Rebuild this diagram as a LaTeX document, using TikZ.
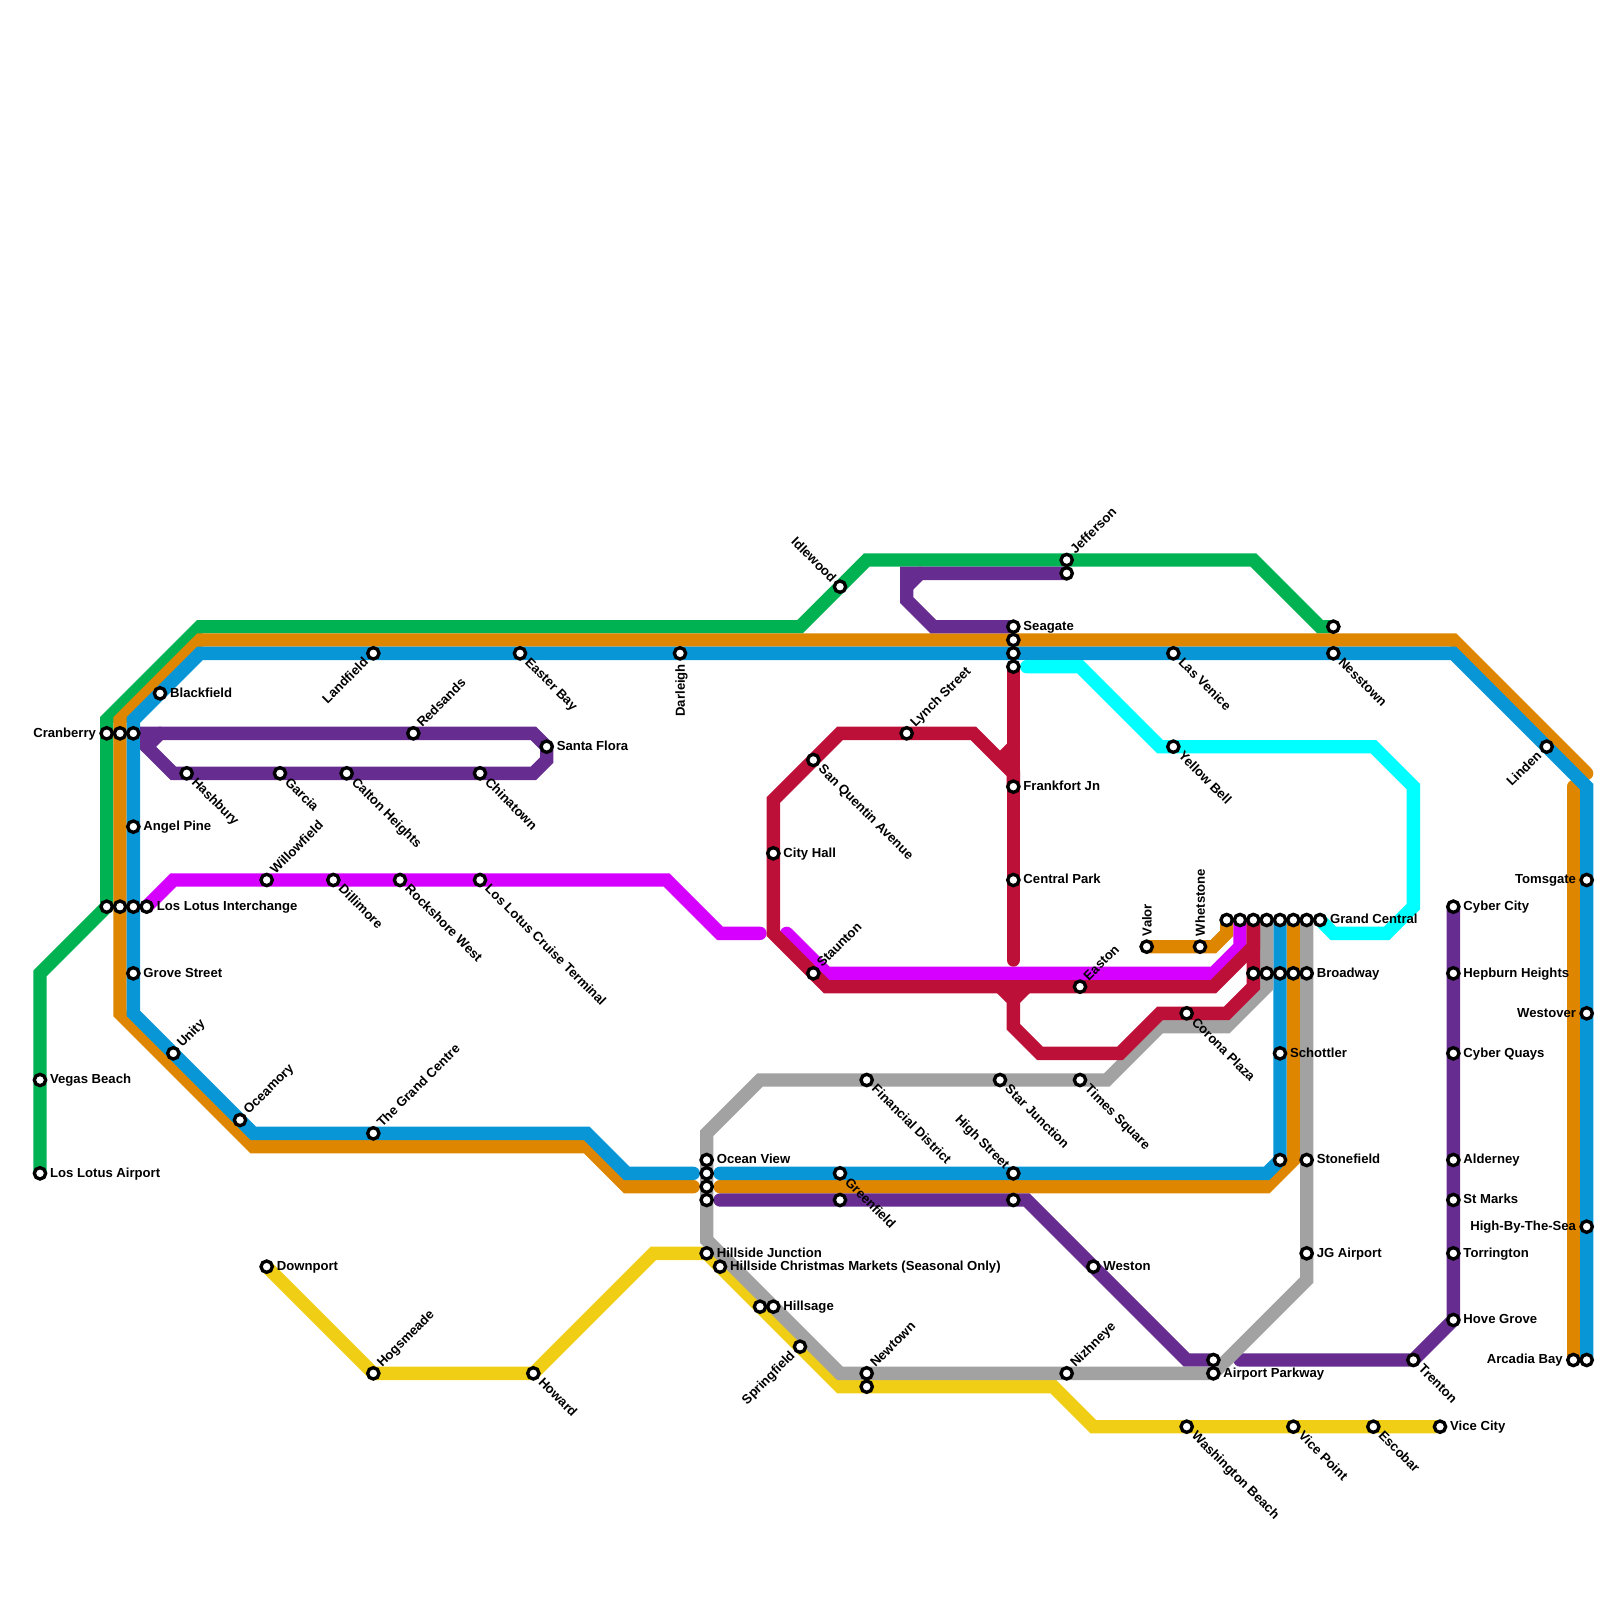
\documentclass[tikz,border=0pt]{standalone}
\usepackage{fontspec}
\setmainfont{Liberation Sans}
\usetikzlibrary{backgrounds}
\definecolor{cgreen}{HTML}{00B251}
\definecolor{corange}{HTML}{DF8600}
\definecolor{cblue}{HTML}{0896D7}
\definecolor{cpurple}{HTML}{662C90}
\definecolor{cmagenta}{HTML}{D500FF}
\definecolor{cred}{HTML}{BD1038}
\definecolor{cgrey}{HTML}{A2A2A2}
\definecolor{cyellow}{HTML}{F0CE15}
\definecolor{ccyan}{HTML}{00FFFF}
\tikzset{
  x=0.25cm,y=-0.25cm,
  metro/.style={line width=0.25cm,line cap=round,line join=miter,miter limit=10},
  stop/.style={circle,draw=black,fill=white,line width=0.0625cm,minimum size=0.2125cm,inner sep=0pt,outer sep=0pt},
  lbl/.style={font=\fontsize{7}{8}\selectfont\bfseries,inner sep=0pt,outer sep=0pt,text=black},
  lR/.style={lbl,anchor=mid west,xshift=0.19cm,yshift=0.02cm},
  lL/.style={lbl,anchor=mid east,xshift=-0.2cm,yshift=0.02cm},
  lUR/.style={lbl,anchor=mid west,rotate=45,xshift=0.19cm,yshift=0.045cm},
  lDR/.style={lbl,anchor=mid west,rotate=-45,xshift=0.19cm,yshift=0.02cm},
  lUL/.style={lbl,anchor=mid east,rotate=-45,xshift=-0.17cm,yshift=0.02cm},
  lDL/.style={lbl,anchor=mid east,rotate=45,xshift=-0.19cm,yshift=0.02cm},
  lU/.style={lbl,anchor=mid west,rotate=90,xshift=0.2cm},
  lD/.style={lbl,anchor=mid east,rotate=90,xshift=-0.2cm},
}
\newcommand{\stn}[5]{\node[stop] (#1) at (#2,#3) {}; \node[#4] (#1-l) at (#1.center) {#5};}
\newcommand{\stp}[3]{\node[stop] (#1) at (#2,#3) {};}
\begin{document}
\begin{tikzpicture}
\useasboundingbox (0,0) rectangle (120,120);
% stations
\stn{lla}{3}{88}{lR}{Los Lotus Airport}
\stn{vegas}{3}{81}{lR}{Vegas Beach}
\stn{cranA}{8}{55}{lL}{Cranberry}
\stp{cranB}{9}{55}
\stp{cranC}{10}{55}
\stp{lliA}{8}{68}
\stp{lliB}{9}{68}
\stp{lliC}{10}{68}
\stn{lliD}{11}{68}{lR}{Los Lotus Interchange}
\stn{blackf}{12}{52}{lR}{Blackfield}
\stn{angel}{10}{62}{lR}{Angel Pine}
\stn{grove}{10}{73}{lR}{Grove Street}
\stn{unity}{13}{79}{lUR}{Unity}
\stn{ocea}{18}{84}{lUR}{Oceamory}
\stn{grand}{28}{85}{lUR}{The Grand Centre}
\stn{hogs}{28}{103}{lUR}{Hogsmeade}
\stn{downp}{20}{95}{lR}{Downport}
\stn{howard}{40}{103}{lDR}{Howard}
\stn{landf}{28}{49}{lDL}{Landfield}
\stn{easter}{39}{49}{lDR}{Easter Bay}
\stn{darl}{51}{49}{lD}{Darleigh}
\stn{reds}{31}{55}{lUR}{Redsands}
\stn{santa}{41}{56}{lR}{Santa Flora}
\stn{hash}{14}{58}{lDR}{Hashbury}
\stn{garcia}{21}{58}{lDR}{Garcia}
\stn{calton}{26}{58}{lDR}{Calton Heights}
\stn{china}{36}{58}{lDR}{Chinatown}
\stn{willow}{20}{66}{lUR}{Willowfield}
\stn{dilli}{25}{66}{lDR}{Dillimore}
\stn{rock}{30}{66}{lDR}{Rockshore West}
\stn{cruise}{36}{66}{lDR}{Los Lotus Cruise Terminal}
\stn{idle}{63}{44}{lUL}{Idlewood}
\stn{jeffA}{80}{42}{lUR}{Jefferson}
\stp{jeffB}{80}{43}
\stn{seaA}{76}{47}{lR}{Seagate}
\stp{seaB}{76}{48}
\stp{seaC}{76}{49}
\stp{seaD}{76}{50}
\stn{lynch}{68}{55}{lUR}{Lynch Street}
\stn{sanq}{61}{57}{lDR}{San Quentin Avenue}
\stn{city}{58}{64}{lR}{City Hall}
\stn{staun}{61}{73}{lUR}{Staunton}
\stn{frank}{76}{59}{lR}{Frankfort Jn}
\stn{central}{76}{66}{lR}{Central Park}
\stn{easton}{81}{74}{lUR}{Easton}
\stn{lasv}{88}{49}{lDR}{Las Venice}
\stn{yell}{88}{56}{lDR}{Yellow Bell}
\stn{valor}{86}{71}{lU}{Valor}
\stn{whet}{90}{71}{lU}{Whetstone}
\stp{gcA}{92}{69}
\stp{gcB}{93}{69}
\stp{gcC}{94}{69}
\stp{gcD}{95}{69}
\stp{gcE}{96}{69}
\stp{gcF}{97}{69}
\stp{gcG}{98}{69}
\stn{gcH}{99}{69}{lR}{Grand Central}
\stp{brA}{94}{73}
\stp{brB}{95}{73}
\stp{brC}{96}{73}
\stp{brD}{97}{73}
\stn{brE}{98}{73}{lR}{Broadway}
\stn{corona}{89}{76}{lDR}{Corona Plaza}
\stn{schott}{96}{79}{lR}{Schottler}
\stn{stone}{98}{87}{lR}{Stonefield}
\stp{stoneB}{96}{87}
\stn{jg}{98}{94}{lR}{JG Airport}
\stn{times}{81}{81}{lDR}{Times Square}
\stn{star}{75}{81}{lDR}{Star Junction}
\stn{fin}{65}{81}{lDR}{Financial District}
\stn{oceanA}{53}{87}{lR}{Ocean View}
\stp{oceanB}{53}{88}
\stp{oceanC}{53}{89}
\stp{oceanD}{53}{90}
\stn{greenA}{63}{88}{lDR}{Greenfield}
\stp{greenB}{63}{90}
\stn{highA}{76}{88}{lUL}{High Street}
\stp{highB}{76}{90}
\stn{hillj}{53}{94}{lR}{Hillside Junction}
\stn{hillc}{54}{95}{lR}{Hillside Christmas Markets (Seasonal Only)}
\stn{hillsA}{58}{98}{lR}{Hillsage}
\stp{hillsB}{57}{98}
\stn{spring}{60}{101}{lDL}{Springfield}
\stn{newtA}{65}{103}{lUR}{Newtown}
\stp{newtB}{65}{104}
\stn{nizh}{80}{103}{lUR}{Nizhneye}
\stn{weston}{82}{95}{lR}{Weston}
\stn{airA}{91}{103}{lR}{Airport Parkway}
\stp{airB}{91}{102}
\stn{trent}{106}{102}{lDR}{Trenton}
\stn{wash}{89}{107}{lDR}{Washington Beach}
\stn{vicep}{97}{107}{lDR}{Vice Point}
\stn{escob}{103}{107}{lDR}{Escobar}
\stn{vicec}{108}{107}{lR}{Vice City}
\stn{nessA}{100}{49}{lDR}{Nesstown}
\stp{nessB}{100}{47}
\stn{linden}{116}{56}{lDL}{Linden}
\stn{toms}{119}{66}{lL}{Tomsgate}
\stn{westo}{119}{76}{lL}{Westover}
\stn{hbts}{119}{92}{lL}{High-By-The-Sea}
\stn{arcA}{118}{102}{lL}{Arcadia Bay}
\stp{arcB}{119}{102}
\stn{cybc}{109}{68}{lR}{Cyber City}
\stn{hepb}{109}{73}{lR}{Hepburn Heights}
\stn{cybq}{109}{79}{lR}{Cyber Quays}
\stn{alder}{109}{87}{lR}{Alderney}
\stn{stm}{109}{90}{lR}{St Marks}
\stn{torr}{109}{94}{lR}{Torrington}
\stn{hove}{109}{99}{lR}{Hove Grove}
% free ends
\coordinate (orE) at (119,58);
\coordinate (orS) at (118,59);
\coordinate (blL) at (52,88);
\coordinate (blR) at (54,88);
\coordinate (orL) at (52,89);
\coordinate (orR) at (54,89);
\coordinate (puL) at (54,90);
\coordinate (puR) at (93,102);
\coordinate (maA) at (57,70);
\coordinate (maB) at (59,70);
\coordinate (reE) at (76,72);
\coordinate (cyS) at (77,50);
\begin{pgfonlayer}{background}
% green
\draw[metro,cgreen] (lla.center) -- (3,73) -- (lliA.center) -- (8,54) -- (15,47) -- (60,47) -- (65,42) -- (94,42) -- (99,47) -- (nessB.center);
% orange
\draw[metro,corange] (orE) -- (109,48) -- (15,48) -- (9,54) -- (9,76) -- (19,86) -- (44,86) -- (47,89) -- (orL);
\draw[metro,corange] (orR) -- (95,89) -- (97,87) -- (gcF.center);
\draw[metro,corange] (orS) -- (arcA.center);
\draw[metro,corange] (valor.center) -- (91,71) -- (92,70) -- (gcA.center);
% blue
\draw[metro,cblue] (arcB.center) -- (119,59) -- (109,49) -- (15,49) -- (10,54) -- (10,76) -- (19,85) -- (44,85) -- (47,88) -- (blL);
\draw[metro,cblue] (blR) -- (95,88) -- (stoneB.center) -- (gcE.center);
% purple
\draw[metro,cpurple] (seaA.center) -- (70,47) -- (68,45) -- (68,43) -- (jeffB.center);
\draw[metro,cpurple] (68,44) -- (69,43);
\draw[metro,cpurple] (11,55) -- (40,55) -- (41,56) -- (41,57) -- (40,58) -- (13,58) -- (11,56) -- cycle;
\draw[metro,cpurple] (11,56) -- (12,55);
\draw[metro,cpurple] (puL) -- (77,90) -- (89,102) -- (airB.center);
\draw[metro,cpurple] (puR) -- (trent.center) -- (109,99) -- (cybc.center);
% magenta
\draw[metro,cmagenta] (lliD.center) -- (13,66) -- (50,66) -- (54,70) -- (maA);
\draw[metro,cmagenta] (maB) -- (62,73) -- (91,73) -- (93,71) -- (gcB.center);
% yellow
\draw[metro,cyellow] (downp.center) -- (hogs.center) -- (howard.center) -- (49,94) -- (hillj.center) -- (63,104) -- (79,104) -- (82,107) -- (vicec.center);
% grey
\draw[metro,cgrey] (gcG.center) -- (98,96) -- (airA.center) -- (63,103) -- (53,93) -- (53,85) -- (57,81) -- (83,81) -- (87,77) -- (92,77) -- (95,74) -- (gcD.center);
% red
\draw[metro,cred] (seaD.center) -- (reE);
\draw[metro,cred] (frank.center) -- (76,58) -- (73,55) -- (63,55) -- (58,60) -- (58,70) -- (62,74) -- (91,74) -- (94,71) -- (gcC.center);
\draw[metro,cred] (75,57) -- (76,56);
\draw[metro,cred] (gcC.center) -- (brA.center) -- (94,74) -- (92,76) -- (87,76) -- (84,79) -- (78,79) -- (76,77) -- (76,75) -- (75,74);
\draw[metro,cred] (76,75) -- (77,74);
% cyan
\draw[metro,ccyan] (cyS) -- (81,50) -- (87,56) -- (103,56) -- (106,59) -- (106,68) -- (104,70) -- (100,70) -- (gcH.center);
\end{pgfonlayer}
\end{tikzpicture}
\end{document}
